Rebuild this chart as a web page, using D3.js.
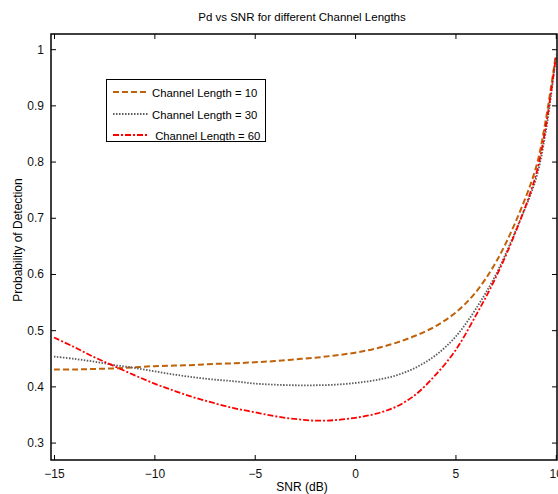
<!DOCTYPE html>
<html><head><meta charset="utf-8">
<script src="https://cdn.jsdelivr.net/npm/d3@7"></script>
<style>body{margin:0;background:#fff}svg{display:block}text{font-family:"Liberation Sans",Arial,sans-serif}</style>
</head><body><svg id="c" width="558" height="494"></svg>
<script>
const snr = [-15,-14,-13,-12,-11,-10,-9,-8,-7,-6,-5,-4,-3,-2,-1,0,1,2,3,4,5,6,7,8,9,9.5,10];
const pd10 = [0.430,0.430,0.431,0.432,0.434,0.436,0.437,0.438,0.440,0.441,0.443,0.445,0.448,0.451,0.455,0.460,0.467,0.477,0.490,0.507,0.531,0.567,0.620,0.693,0.788,0.874,0.990];
const pd30 = [0.453,0.449,0.444,0.438,0.433,0.427,0.421,0.416,0.412,0.409,0.405,0.403,0.402,0.402,0.403,0.406,0.411,0.419,0.433,0.455,0.488,0.537,0.598,0.677,0.768,0.853,0.985];
const pd60 = [0.487,0.470,0.452,0.436,0.420,0.405,0.392,0.380,0.370,0.361,0.354,0.347,0.342,0.339,0.340,0.344,0.351,0.363,0.385,0.420,0.464,0.525,0.593,0.675,0.775,0.862,0.985];
const xTicks = [-15,-10,-5,0,5,10];
const yTicks = [0.3,0.4,0.5,0.6,0.7,0.8,0.9,1];
const seriesNames = ["Channel Length = 10","Channel Length = 30"," Channel Length = 60"];
const titleText = "Pd vs SNR for different Channel Lengths";

const svg = d3.select("#c");
const L=51, R=557, T=34, B=460;
const x = d3.scaleLinear().domain([-15.15,10.06]).range([L,R]);
const y = d3.scaleLinear().domain([0.269,1.027]).range([B,T]);

const styles = [
  {color:"#c0620a", dash:"6,3", w:2},
  {color:"#5a5a5a", dash:"1.5,1.5", w:1.8},
  {color:"#ff0000", dash:"6,2,2,2", w:1.8}
];
const data = [pd10,pd30,pd60];

const g = svg.append("g");
svg.append("clipPath").attr("id","pc").append("rect").attr("x",L).attr("y",T).attr("width",R-L).attr("height",B-T);

const line = d3.line().x((d,i)=>x(snr[i])).y(d=>y(d)).curve(d3.curveCatmullRom.alpha(0.5));
data.forEach((s,k)=>{
  g.append("path").attr("d",line(s)).attr("fill","none")
   .attr("stroke",styles[k].color).attr("stroke-width",styles[k].w)
   .attr("stroke-dasharray",styles[k].dash).attr("clip-path","url(#pc)");
});

const fs = 12;
const ax = g.append("g").attr("transform",`translate(0,${B})`).call(d3.axisBottom(x).tickValues(xTicks).tickSize(-5).tickPadding(9).tickFormat(d3.format("d")));
const axT = g.append("g").attr("transform",`translate(0,${T})`).call(d3.axisTop(x).tickValues(xTicks).tickSize(-5).tickFormat(""));
const ay = g.append("g").attr("transform",`translate(${L},0)`).call(d3.axisLeft(y).tickValues(yTicks).tickSize(-5).tickPadding(7).tickFormat(d=>d3.format("")(+d.toFixed(1))));
const ayR = g.append("g").attr("transform",`translate(${R},0)`).call(d3.axisRight(y).tickValues(yTicks).tickSize(-5).tickFormat(""));
[ax,axT,ay,ayR].forEach(a=>{
  a.select(".domain").remove();
  a.selectAll("line").attr("stroke","#000").attr("stroke-width",1);
  a.selectAll("text").attr("font-size",fs).attr("fill","#111").style("font-family","'Liberation Sans',Arial,sans-serif");
});
g.append("rect").attr("x",L).attr("y",T).attr("width",R-L).attr("height",B-T).attr("fill","none").attr("stroke","#000").attr("stroke-width",1.5);

svg.append("text").attr("x",302).attr("y",21).attr("text-anchor","middle").attr("font-size",11.5).text(titleText);
svg.append("text").attr("x",302).attr("y",491).attr("text-anchor","middle").attr("font-size",12).text("SNR (dB)");
svg.append("text").attr("transform","translate(22,240) rotate(-90)").attr("text-anchor","middle").attr("font-size",12).text("Probability of Detection");

const lg = svg.append("g");
lg.append("rect").attr("x",106.5).attr("y",79.5).attr("width",159).attr("height",62).attr("fill","#fff").attr("stroke","#000").attr("stroke-width",1);
const rows=[92,114,135];
const tx=[152,152,152];
seriesNames.forEach((n,k)=>{
  lg.append("line").attr("x1",113).attr("x2",148).attr("y1",rows[k]).attr("y2",rows[k])
    .attr("stroke",styles[k].color).attr("stroke-width",styles[k].w).attr("stroke-dasharray",styles[k].dash);
  lg.append("text").attr("x",tx[k]).attr("y",rows[k]+4.5).attr("font-size",11.3).style("white-space","pre").text(n);
});
</script></body></html>
